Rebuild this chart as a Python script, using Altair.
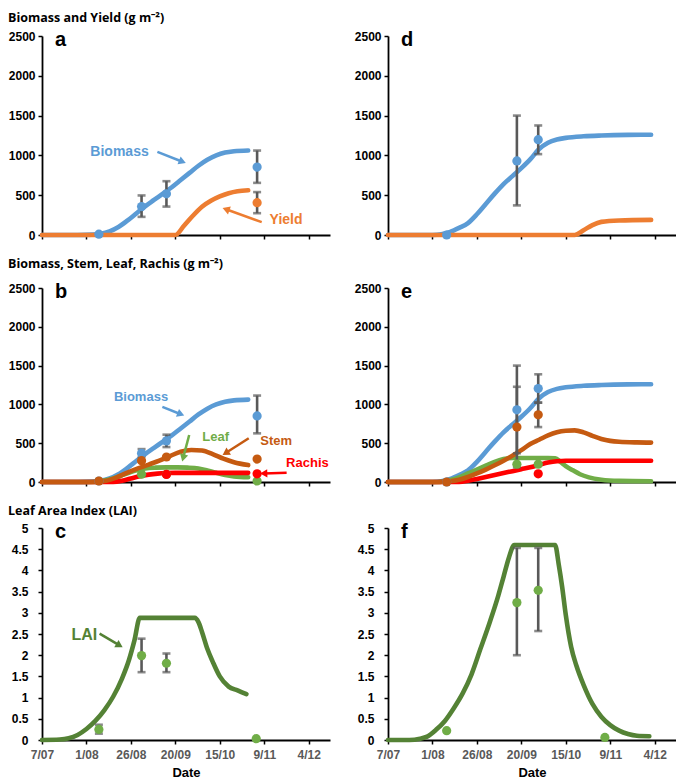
import math
import altair as alt
import pandas as pd

# ---------------- axes ----------------
tick_days = [0, 25, 50, 75, 100, 125, 150]          # days since 7 July
tick_labels = ["7/07", "1/08", "26/08", "20/09", "15/10", "9/11", "4/12"]
x_max = 162
mass_ticks = [0, 500, 1000, 1500, 2000, 2500]
lai_ticks = [0, 0.5, 1, 1.5, 2, 2.5, 3, 3.5, 4, 4.5, 5]

row_titles = ["Biomass and Yield (g m\u207b\u00b2)",
              "Biomass, Stem, Leaf, Rachis (g m\u207b\u00b2)",
              "Leaf Area Index (LAI)"]

# ---------------- colours ----------------
BLUE = "#5B9BD5"
ORANGE = "#ED7D31"
BROWN = "#C55A11"
GREEN = "#70AD47"
DKGREEN = "#548235"
RED = "#FF0000"
GREY = "#595959"

# ---------------- simulated lines (left column) ----------------
bio_L_day = [0, 20, 28, 33, 38, 43, 48, 53, 58, 63, 68, 73, 78, 83, 88, 93, 98, 103, 108, 116]
bio_L_val = [0, 0, 5, 15, 45, 100, 180, 270, 360, 440, 520, 600, 690, 780, 870, 945, 1000, 1035, 1052, 1062]
yld_L_day = [0, 75, 80, 85, 90, 95, 100, 105, 110, 116]
yld_L_val = [0, 0, 120, 245, 355, 430, 485, 525, 550, 562]
stem_L_day = [0, 30, 36, 42, 48, 54, 60, 66, 72, 78, 84, 90, 96, 102, 108, 116]
stem_L_val = [0, 0, 15, 60, 120, 175, 225, 275, 335, 390, 412, 405, 360, 300, 255, 218]
leaf_L_day = [0, 28, 34, 40, 46, 52, 58, 64, 70, 76, 82, 88, 93, 98, 103, 108, 116]
leaf_L_val = [0, 0, 15, 45, 95, 145, 175, 185, 188, 188, 185, 175, 150, 118, 90, 72, 62]
rach_L_day = [0, 40, 45, 50, 55, 60, 65, 70, 75, 80, 116]
rach_L_val = [0, 0, 15, 45, 75, 95, 108, 115, 118, 118, 118]
lai_L_day = [0, 10, 15, 20, 25, 30, 35, 40, 45, 49, 52, 55, 86, 88, 90, 93, 96, 100, 105, 110, 115]
lai_L_val = [0, 0.01, 0.04, 0.12, 0.26, 0.45, 0.7, 1.02, 1.45, 1.9, 2.35, 2.88, 2.88, 2.78, 2.55, 2.15, 1.85, 1.5, 1.26, 1.17, 1.08]

# ---------------- simulated lines (right column) ----------------
bio_R_day = [0, 25, 30, 35, 40, 45, 50, 55, 60, 65, 70, 75, 80, 85, 90, 95, 100, 110, 120, 135, 148]
bio_R_val = [0, 0, 10, 40, 90, 150, 260, 390, 520, 640, 740, 840, 950, 1080, 1160, 1200, 1220, 1240, 1250, 1258, 1260]
yld_R_day = [0, 105, 110, 115, 120, 130, 148]
yld_R_val = [0, 0, 60, 125, 165, 183, 190]
stem_R_day = [0, 28, 35, 40, 45, 50, 55, 60, 65, 70, 75, 80, 85, 90, 95, 100, 105, 110, 115, 120, 125, 130, 140, 148]
stem_R_val = [0, 0, 10, 30, 65, 110, 160, 215, 275, 340, 410, 490, 545, 600, 640, 660, 665, 640, 595, 555, 530, 518, 510, 508]
leaf_R_day = [0, 28, 35, 40, 45, 50, 55, 60, 65, 70, 80, 90, 94, 97, 100, 104, 108, 113, 120, 130, 148]
leaf_R_val = [0, 0, 25, 60, 110, 160, 210, 260, 295, 310, 310, 310, 305, 260, 205, 150, 100, 60, 30, 15, 10]
rach_R_day = [0, 40, 45, 50, 55, 60, 65, 70, 75, 80, 85, 90, 95, 100, 148]
rach_R_val = [0, 0, 15, 40, 65, 90, 115, 140, 165, 190, 220, 250, 268, 273, 273]
lai_R_day = [0, 12, 18, 22, 27, 32, 37, 42, 47, 52, 57, 62, 65, 68, 71, 94, 96, 98, 100, 103, 106, 110, 115, 120, 125, 130, 135, 140, 147]
lai_R_val = [0, 0, 0.03, 0.08, 0.24, 0.45, 0.75, 1.1, 1.55, 2.15, 2.75, 3.4, 3.85, 4.3, 4.6, 4.6, 4.15, 3.6, 2.95, 2.2, 1.75, 1.3, 0.85, 0.55, 0.35, 0.22, 0.14, 0.1, 0.09]

# ---------------- observations ----------------
obs_day_L = [32, 56, 70, 121]
bio_obs_a = [10, 357, 518, 854]
bio_lo_a = [None, 228, 357, 655]
bio_hi_a = [None, 497, 676, 1061]
yld_obs_day_a = [121]
yld_obs_a = [406]
yld_lo_a = [274]
yld_hi_a = [539]

bio_obs_b = [13, 370, 530, 852]
bio_lo_b = [None, 322, 450, 627]
bio_hi_b = [None, 424, 610, 1114]
stem_obs_b = [13, 275, 322, 296]
leaf_obs_day_b = [56, 70, 121]
leaf_obs_b = [100, 100, 13]
rach_obs_day_b = [70, 121]
rach_obs_b = [97, 106]

obs_day_R = [33, 72.5, 84.5]
bio_obs_d = [0, 930, 1198]
bio_lo_d = [None, 372, 1016]
bio_hi_d = [None, 1500, 1376]

bio_obs_e = [0, 930, 1205]
bio_lo_e = [None, 370, 1022]
bio_hi_e = [None, 1500, 1388]
stem_obs_e = [0, 708, 866]
stem_lo_e = [None, 189, 708]
stem_hi_e = [None, 1227, 1024]
leaf_obs_day_e = [72.5, 84.5]
leaf_obs_e = [229, 229]
rach_obs_day_e = [84.5]
rach_obs_e = [106]

lai_obs_day_c = [32, 56, 70, 120.5]
lai_obs_c = [0.25, 1.99, 1.81, 0.03]
lai_lo_c = [0.15, 1.6, 1.6, None]
lai_hi_c = [0.36, 2.39, 2.04, None]
lai_obs_day_f = [33, 72.5, 84.5, 122]
lai_obs_f = [0.22, 3.24, 3.53, 0.06]
lai_lo_f = [None, 2.0, 2.57, None]
lai_hi_f = [None, 4.53, 4.53, None]

# ---------------- annotations (data coordinates) ----------------
lab_a = {"t": ["Biomass", "Yield"], "x": [43.6, 137.3], "y": [1045, 187], "c": [BLUE, ORANGE], "fs": [14, 14]}
arr_a = {"x0": [64.9, 123.6], "y0": [1045, 162], "x1": [79, 103.5], "y1": [920, 323], "c": [BLUE, ORANGE]}
lab_b = {"t": ["Biomass", "Leaf", "Stem", "Rachis"], "x": [55.7, 97.7, 131.7, 149.3],
         "y": [1098, 576, 525, 245], "c": [BLUE, GREEN, BROWN, RED], "fs": [13, 13, 13, 13]}
arr_b = {"x0": [67.7, 82.8, 116.3, 137.6], "y0": [967, 605, 563, 118],
         "x1": [78.1, 79.4, 103.3, 124.7], "y1": [873, 310, 373, 110], "c": [BLUE, GREEN, BROWN, RED]}
lab_c = {"t": ["LAI"], "x": [23.8], "y": [2.48], "c": [DKGREEN], "fs": [16]}
arr_c = {"x0": [32.4], "y0": [2.51], "x1": [43.6], "y1": [2.23], "c": [DKGREEN]}

W = 288
H_row = [199, 194, 212]

label_expr = " : ".join(f"datum.value == {d} ? '{l}'" for d, l in zip(tick_days, tick_labels)) + " : ''"


def x_enc(field, show):
    return alt.X(f"{field}:Q", scale=alt.Scale(domain=[0, x_max], nice=False, zero=False),
                 axis=alt.Axis(values=tick_days, labelExpr=label_expr, labels=show,
                               labelFlush=False, labelOverlap=False,
                               title="Date" if show else None, grid=False,
                               tickSize=4, tickColor="black", tickWidth=1.5,
                               domainColor="black", domainWidth=1.8,
                               labelColor=GREY, labelFontSize=12, labelFontWeight="bold",
                               labelFont="Liberation Sans", labelPadding=5,
                               titleFont="Liberation Sans", titleFontSize=13,
                               titleFontWeight="bold", titleColor="black", titlePadding=6))


def y_enc(field, lai):
    if lai:
        ax = alt.Axis(values=lai_ticks, labelExpr="'' + datum.value", labelPadding=10)
        dom = [0, 5]
    else:
        ax = alt.Axis(values=mass_ticks, format="d", labelPadding=3)
        dom = [0, 2500]
    for k, v in dict(title=None, grid=False, tickSize=4, tickColor="black", tickWidth=1.5,
                     domainColor="black", domainWidth=1.8, labelColor="black",
                     labelFontSize=12, labelFontWeight="bold", labelFont="Liberation Sans",
                     labelFlush=False, labelOverlap=False).items():
        setattr(ax, k, v)
    return alt.Y(f"{field}:Q", scale=alt.Scale(domain=dom, nice=False, zero=True), axis=ax)


def lines(days, vals, color, show, lai):
    df = pd.DataFrame({"day": days, "v": vals})
    return alt.Chart(df).mark_line(color=color, strokeWidth=4.6, strokeCap="round",
                                   strokeJoin="round", interpolate="monotone").encode(
        x=x_enc("day", show), y=y_enc("v", lai))


def points(days, vals, color, show, lai):
    df = pd.DataFrame({"day": days, "v": vals})
    return alt.Chart(df).mark_circle(color=color, size=85, opacity=1).encode(
        x=x_enc("day", show), y=y_enc("v", lai))


def errbars(days, lo, hi, show, lai):
    df = pd.DataFrame({"day": days, "lo": lo, "hi": hi}).dropna()
    base = alt.Chart(df)
    r = base.mark_rule(color=GREY, strokeWidth=2.6).encode(
        x=x_enc("day", show), y=y_enc("lo", lai), y2="hi:Q")
    t1 = base.mark_tick(color=GREY, orient="horizontal", size=8, thickness=2.6).encode(
        x=x_enc("day", show), y=y_enc("lo", lai))
    t2 = base.mark_tick(color=GREY, orient="horizontal", size=8, thickness=2.6).encode(
        x=x_enc("day", show), y=y_enc("hi", lai))
    return [r, t1, t2]


def annotations(lab, arr, show, lai, height):
    ymax = 5 if lai else 2500
    kx = W / x_max
    ky = height / ymax
    adf = pd.DataFrame(arr)
    adf["ang"] = [math.degrees(math.atan2((x1 - x0) * kx, (y1 - y0) * ky)) % 360
                  for x0, y0, x1, y1 in zip(adf.x0, adf.y0, adf.x1, adf.y1)]
    shaft = alt.Chart(adf).mark_rule(strokeWidth=2.5).encode(
        x=x_enc("x0", show), x2="x1:Q", y=y_enc("y0", lai), y2="y1:Q",
        color=alt.Color("c:N", scale=None))
    head = alt.Chart(adf).mark_point(shape="triangle-up", filled=True, size=70, opacity=1,
                                     strokeWidth=0).encode(
        x=x_enc("x1", show), y=y_enc("y1", lai), angle=alt.Angle("ang:Q", scale=None),
        color=alt.Color("c:N", scale=None))
    ldf = pd.DataFrame(lab)
    text = alt.Chart(ldf).mark_text(font="Liberation Sans", fontWeight="bold",
                                    align="center", baseline="middle").encode(
        x=x_enc("x", show), y=y_enc("y", lai), text="t:N",
        color=alt.Color("c:N", scale=None), size=alt.Size("fs:Q", scale=None))
    return [shaft, head, text]


def letter(ch):
    df = pd.DataFrame({"t": [ch]})
    return alt.Chart(df).mark_text(font="Liberation Sans", fontWeight="bold", fontSize=20,
                                   align="left", baseline="alphabetic", color="black").encode(
        x=alt.value(13), y=alt.value(10), text="t:N")


def panel(layers, height, title=None, offset=10):
    ch = alt.layer(*layers).properties(width=W, height=height)
    if title:
        ch = ch.properties(title=alt.TitleParams(title, anchor="start", frame="group", dx=-34,
                                                  font="Open Sans", fontSize=12.5, fontWeight="bold",
                                                  color="black", offset=offset))
    return ch


# ---- panel a ----
pa = panel([lines(bio_L_day, bio_L_val, BLUE, False, False),
            lines(yld_L_day, yld_L_val, ORANGE, False, False),
            *errbars(obs_day_L, bio_lo_a, bio_hi_a, False, False),
            *errbars(yld_obs_day_a, yld_lo_a, yld_hi_a, False, False),
            points(obs_day_L, bio_obs_a, BLUE, False, False),
            points(yld_obs_day_a, yld_obs_a, ORANGE, False, False),
            *annotations(lab_a, arr_a, False, False, H_row[0]),
            letter("a")], H_row[0], row_titles[0], 6)

# ---- panel d ----
pd_ = panel([lines(bio_R_day, bio_R_val, BLUE, False, False),
             lines(yld_R_day, yld_R_val, ORANGE, False, False),
             *errbars(obs_day_R, bio_lo_d, bio_hi_d, False, False),
             points(obs_day_R, bio_obs_d, BLUE, False, False),
             letter("d")], H_row[0])

# ---- panel b ----
pb = panel([lines(bio_L_day, bio_L_val, BLUE, False, False),
            lines(leaf_L_day, leaf_L_val, GREEN, False, False),
            lines(rach_L_day, rach_L_val, RED, False, False),
            lines(stem_L_day, stem_L_val, BROWN, False, False),
            *errbars(obs_day_L, bio_lo_b, bio_hi_b, False, False),
            points(obs_day_L, bio_obs_b, BLUE, False, False),
            points(obs_day_L, stem_obs_b, BROWN, False, False),
            points(leaf_obs_day_b, leaf_obs_b, GREEN, False, False),
            points(rach_obs_day_b, rach_obs_b, RED, False, False),
            *annotations(lab_b, arr_b, False, False, H_row[1]),
            letter("b")], H_row[1], row_titles[1], 12)

# ---- panel e ----
pe = panel([lines(bio_R_day, bio_R_val, BLUE, False, False),
            lines(leaf_R_day, leaf_R_val, GREEN, False, False),
            lines(rach_R_day, rach_R_val, RED, False, False),
            lines(stem_R_day, stem_R_val, BROWN, False, False),
            *errbars(obs_day_R, bio_lo_e, bio_hi_e, False, False),
            *errbars(obs_day_R, stem_lo_e, stem_hi_e, False, False),
            points(obs_day_R, bio_obs_e, BLUE, False, False),
            points(obs_day_R, stem_obs_e, BROWN, False, False),
            points(leaf_obs_day_e, leaf_obs_e, GREEN, False, False),
            points(rach_obs_day_e, rach_obs_e, RED, False, False),
            letter("e")], H_row[1])

# ---- panel c ----
pc = panel([lines(lai_L_day, lai_L_val, DKGREEN, True, True),
            *errbars(lai_obs_day_c, lai_lo_c, lai_hi_c, True, True),
            points(lai_obs_day_c, lai_obs_c, GREEN, True, True),
            *annotations(lab_c, arr_c, True, True, H_row[2]),
            letter("c")], H_row[2], row_titles[2], 5)

# ---- panel f ----
pf = panel([lines(lai_R_day, lai_R_val, DKGREEN, True, True),
            *errbars(lai_obs_day_f, lai_lo_f, lai_hi_f, True, True),
            points(lai_obs_day_f, lai_obs_f, GREEN, True, True),
            letter("f")], H_row[2])

chart = alt.concat(pa, pd_, pb, pe, pc, pf, columns=2,
                   spacing=alt.RowColnumber(row=16, column=24)).properties(
    align="each", padding={"top": 3, "left": 0, "right": 0, "bottom": 0}).configure_view(stroke=None)

chart.save("out.html", embed_options={"renderer": "svg", "actions": False})
